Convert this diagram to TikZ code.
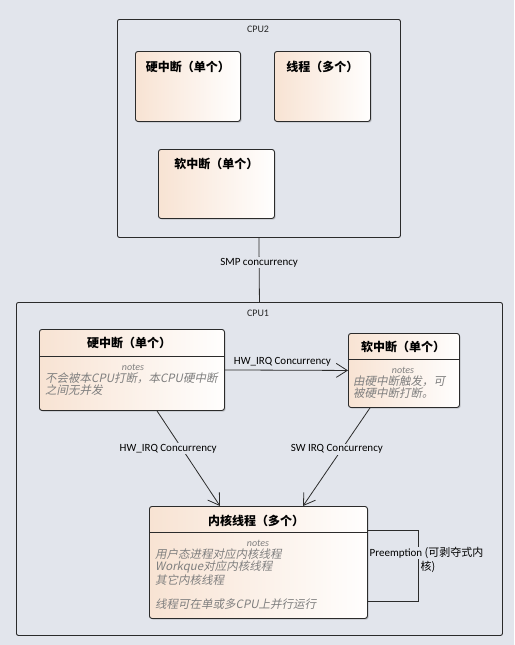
\documentclass[tikz,border=0pt]{standalone}
\usepackage{fontspec}
\setmainfont{Carlito}
\newfontfamily\cjk{Noto Sans CJK SC}
\newfontfamily\cjkslant{Noto Sans CJK SC}[FakeSlant=0.2]
\usetikzlibrary{arrows.meta,shadows}

\definecolor{bg}{HTML}{E2E5EC}
\definecolor{peach}{HTML}{F8E3D3}
\definecolor{frame}{HTML}{2B2B2B}
\definecolor{notegray}{HTML}{7F7F7F}

\tikzset{
  cpuframe/.style={draw=frame, line width=0.9pt, rounded corners=2pt, fill=bg,
    anchor=north west, inner sep=0pt},
  elem/.style={draw=frame, line width=0.9pt, rounded corners=2.5pt,
    left color=peach, right color=white!97!peach, anchor=north west, inner sep=0pt,
    drop shadow={shadow xshift=1.2pt, shadow yshift=-1.2pt, fill=black, opacity=0.15}},
  cputitle/.style={font=\fontsize{10}{12}\selectfont, text=black!85},
  elemtitle/.style={font=\cjk\bfseries\fontsize{12}{14}\selectfont, inner sep=0pt},
  noteshead/.style={font=\itshape\fontsize{10}{12}\selectfont, text=notegray, inner sep=0pt},
  notetext/.style={font=\cjkslant\fontsize{11.5}{12}\selectfont, text=notegray,
    align=left, anchor=north west, inner sep=0pt},
  conn/.style={draw=frame, line width=0.8pt},
  arr/.style={conn, -{Straight Barb[length=11pt,width=14pt,line width=0.8pt]}},
  lbl/.style={font=\fontsize{11}{13}\selectfont, inner sep=1pt},
}

\begin{document}
\begin{tikzpicture}[x=1pt, y=-1pt]
\fill[bg] (0,0) rectangle (514,645);
\useasboundingbox (0,0) rectangle (514,645);

% CPU2 frame and its elements
\node[cpuframe, minimum width=283pt, minimum height=218pt] (cpu2) at (117,19) {};
\node[cputitle] (cpu2t) at (258,29) {CPU2};
\node[elem, minimum width=105pt, minimum height=70pt] (hw2) at (135,51) {};
\node[elemtitle] (hw2t) at ([yshift=-16pt]hw2.north) {硬中断（单个）};
\node[elem, minimum width=96pt, minimum height=70pt] (th2) at (274,51) {};
\node[elemtitle] (th2t) at ([yshift=-16pt]th2.north) {线程（多个）};
\node[elem, minimum width=116pt, minimum height=69pt] (sw2) at (158,149) {};
\node[elemtitle] (sw2t) at ([yshift=-15pt]sw2.north) {软中断（单个）};

% CPU1 frame
\node[cpuframe, minimum width=486pt, minimum height=333pt] (cpu1) at (16,302) {};
\node[cputitle] (cpu1t) at (258,313) {CPU1};

% hard irq element
\node[elem, minimum width=185pt, minimum height=81pt] (hw1) at (39,329) {};
\node[elemtitle] (hw1t) at (129,343) {硬中断（单个）};
\draw[frame, line width=0.8pt] ([yshift=-27pt]hw1.north west) -- ([yshift=-27pt]hw1.north east);
\node[noteshead] (hw1n) at (133,367) {notes};
\node[notetext] (hw1x) at (45,373) {不会被本CPU打断，本CPU硬中断\\之间无并发};

% soft irq element
\node[elem, minimum width=111pt, minimum height=74pt] (sw1) at (348,333) {};
\node[elemtitle] (sw1t) at (403,347) {软中断（单个）};
\draw[frame, line width=0.8pt] ([yshift=-26pt]sw1.north west) -- ([yshift=-26pt]sw1.north east);
\node[noteshead] (sw1n) at (403,370) {notes};
\node[notetext] (sw1x) at (353,376) {由硬中断触发，可\\被硬中断打断。};

% kernel thread element
\node[elem, minimum width=218pt, minimum height=112pt] (kt) at (149,506) {};
\node[elemtitle] (ktt) at (256,521) {内核线程（多个）};
\draw[frame, line width=0.8pt] ([yshift=-26pt]kt.north west) -- ([yshift=-26pt]kt.north east);
\node[noteshead] (ktn) at (258,543) {notes};
\node[notetext] (ktx) at (155,549) {用户态进程对应内核线程\\Workque对应内核线程\\其它内核线程\\[12pt]线程可在单或多CPU上并行运行};

% connectors
\draw[conn] (cpu2.south) -- (cpu1.north)
  node[lbl, pos=0.39, fill=bg] (smp) {SMP concurrency};
\draw[arr] (hw1.east) -- (sw1.west)
  node[lbl, midway, anchor=south, xshift=-4pt, yshift=3pt] (hwl1) {HW\_IRQ Concurrency};
\draw[arr] ([xshift=118pt]hw1.south west) -- ([xshift=71pt]kt.north west)
  node[lbl, pos=0.4, xshift=-14pt, fill=bg] (hwl2) {HW\_IRQ Concurrency};
\draw[arr] ([xshift=22pt]sw1.south west) -- ([xshift=154pt]kt.north west)
  node[lbl, pos=0.42, xshift=-5pt, fill=bg] (swl) {SW IRQ Concurrency};

% preemption self loop
\coordinate (pa) at ([yshift=-24pt]kt.north east);
\coordinate (pb) at ([yshift=18pt]kt.south east);
\draw[conn] (pa) -- ++(50,0) |- (pb);
\node[lbl, fill=bg, anchor=west, inner sep=0.5pt] (pre) at (369,553) {Preemption {\cjk (可剥夺式内}};
\node[lbl, inner sep=0.5pt] (pre2) at (428,567) {\cjk 核)};
\end{tikzpicture}
\end{document}
